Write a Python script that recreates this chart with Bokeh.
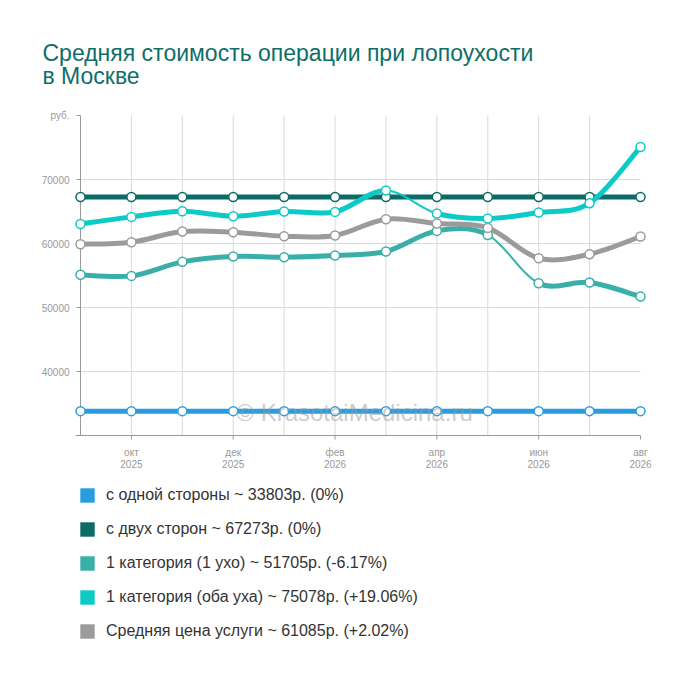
import numpy as np
from bokeh.plotting import figure
from bokeh.models import ColumnDataSource, Range1d, Legend, LegendItem, Label
from bokeh.core.properties import value
from bokeh.embed import file_html
from bokeh.resources import INLINE

# months: Sep 2025 .. Aug 2026, tick labels only on every second month
months = ["сен\n2025", "окт\n2025", "ноя\n2025", "дек\n2025", "янв\n2026", "фев\n2026",
          "мар\n2026", "апр\n2026", "май\n2026", "июн\n2026", "июл\n2026", "авг\n2026"]
labelled_months = [1, 3, 5, 7, 9, 11]

one_side = [33803, 33803, 33803, 33803, 33803, 33803, 33803, 33803, 33803, 33803, 33803, 33803]
both_sides = [67273, 67273, 67273, 67273, 67273, 67273, 67273, 67273, 67273, 67273, 67273, 67273]
cat1_one_ear = [55105, 54940, 57130, 57970, 57860, 58120, 58750, 61970, 61340, 53800, 53900, 51705]
cat1_both_ears = [63059, 64160, 65050, 64270, 65000, 64940, 68280, 64690, 63900, 64840, 66300, 75078]
avg_price = [59876, 60200, 61870, 61770, 61140, 61250, 63800, 63120, 62440, 57700, 58330, 61085]

series_names = [
    "с одной стороны ~ 33803р. (0%)",
    "с двух сторон ~ 67273р. (0%)",
    "1 категория (1 ухо) ~ 51705р. (-6.17%)",
    "1 категория (оба уха) ~ 75078р. (+19.06%)",
    "Средняя цена услуги ~ 61085р. (+2.02%)",
]
title_lines = ["Средняя стоимость операции при лопоухости", "в Москве"]
y_ticks = [40000, 50000, 60000, 70000, 80000]
y_tick_labels = ["40000", "50000", "60000", "70000", "руб."]

FONT = "Liberation Sans"
COLORS = ["#2a9de0", "#0b6b66", "#3aafa9", "#0ccac6", "#9b9b9b"]
AXIS = "#999999"
GRID = "#d9d9d9"
# a couple of segments are drawn thin in the original
THIN = {2: [8], 3: [6]}

# the frame covers the whole canvas, the plotting area sits inside it
W, H = 700, 680
AREA_L, AREA_R, AREA_T, AREA_B = 80, 640, 115, 435
XMIN, XMAX = 0, 11
YMIN, YMAX = 30000, 80000
kx = (XMAX - XMIN) / (AREA_R - AREA_L)
ky = (YMAX - YMIN) / (AREA_B - AREA_T)


def px(cx, cy):
    # canvas pixel (from top-left) -> data coords
    return XMIN + (cx - AREA_L) * kx, YMIN + (AREA_B - cy) * ky


def spline_segments(ys, k=1 / 6):
    xs = np.arange(len(ys), dtype=float)
    ys = np.asarray(ys, dtype=float)
    n = len(ys)
    seg = dict(x0=[], y0=[], x1=[], y1=[], cx0=[], cy0=[], cx1=[], cy1=[])
    for i in range(n - 1):
        a, b = max(i - 1, 0), min(i + 2, n - 1)
        seg["x0"].append(xs[i])
        seg["y0"].append(ys[i])
        seg["x1"].append(xs[i + 1])
        seg["y1"].append(ys[i + 1])
        seg["cx0"].append(xs[i] + (xs[i + 1] - xs[a]) * k)
        seg["cy0"].append(ys[i] + (ys[i + 1] - ys[a]) * k)
        seg["cx1"].append(xs[i + 1] - (xs[b] - xs[i]) * k)
        seg["cy1"].append(ys[i + 1] - (ys[b] - ys[i]) * k)
    return seg


x_lo, y_lo = px(0, H)
x_hi, y_hi = px(W, 0)
p = figure(width=W, height=H, toolbar_location=None, output_backend="svg",
           x_range=Range1d(x_lo, x_hi), y_range=Range1d(y_lo, y_hi),
           x_axis_location=None, y_axis_location=None, min_border=0)
p.grid.visible = False
p.outline_line_color = None

# grid
grid_x = list(range(XMIN + 1, XMAX))
p.segment(x0=grid_x, y0=YMIN, x1=grid_x, y1=YMAX, line_color=GRID, line_width=1)
p.segment(x0=XMIN, y0=y_ticks[:-1], x1=XMAX, y1=y_ticks[:-1], line_color=GRID, line_width=1)

# axes
p.segment(x0=[XMIN, px(75, 0)[0]], y0=[YMIN, YMIN], x1=[XMIN, XMAX], y1=[YMAX, YMIN],
          line_color=AXIS, line_width=1)
p.ray(x=XMIN, y=y_ticks, length=4, length_units="screen", angle=np.pi, line_color=AXIS)
p.ray(x=labelled_months, y=YMIN, length=4, length_units="screen", angle=-np.pi / 2,
      line_color=AXIS)
p.text(x=XMIN, y=y_ticks, text=y_tick_labels, x_offset=-11, text_align="right",
       text_baseline="middle", text_font=value(FONT), text_font_size="10px", text_color=AXIS)
month_part = [months[i].split("\n")[0] for i in labelled_months]
year_part = [months[i].split("\n")[1] for i in labelled_months]
for part, off in ((month_part, 17), (year_part, 28)):
    p.text(x=labelled_months, y=YMIN, text=part, y_offset=off, text_align="center",
           text_baseline="alphabetic", text_font=value(FONT), text_font_size="10px",
           text_color=AXIS)

# series
all_series = [one_side, both_sides, cat1_one_ear, cat1_both_ears, avg_price]
items = []
for idx, (ys, color, name) in enumerate(zip(all_series, COLORS, series_names)):
    xs = list(range(len(ys)))
    seg = spline_segments(ys)
    seg["w"] = [2 if j in THIN.get(idx, []) else 5 for j in range(len(ys) - 1)]
    p.bezier(x0="x0", y0="y0", x1="x1", y1="y1", cx0="cx0", cy0="cy0", cx1="cx1", cy1="cy1",
             source=ColumnDataSource(seg), line_color=color, line_width="w", line_cap="round")
    p.scatter(x=xs, y=ys, size=9, fill_color="white", line_color=color, line_width=1.5)
    # zero-area boxes at the points: only used to draw the square legend swatch
    swatch = p.quad(left=xs, right=xs, top=ys, bottom=ys, fill_color=color, line_color=None)
    items.append(LegendItem(label=name, renderers=[swatch]))

# title, two lines
for line, base in zip(title_lines, [52, 75]):
    tx, ty = px(42, base)
    p.add_layout(Label(x=tx, y=ty, text=line, text_font=FONT, text_font_size="23px",
                       text_color="#0e6e68", text_baseline="alphabetic"))

# watermark
wx, wy = px(354, 412)
p.add_layout(Label(x=wx, y=wy, text="© KrasotaiMedicina.ru", text_align="center",
                   text_baseline="alphabetic", text_font=FONT, text_font_size="24px",
                   text_color="#999999", text_alpha=0.5))

legend = Legend(items=items, location=(78, 39), orientation="vertical",
                margin=0, padding=0, spacing=14, glyph_width=18, glyph_height=18,
                label_height=20, label_standoff=10, border_line_color=None,
                background_fill_alpha=0, label_text_font=FONT,
                label_text_font_size="16px", label_text_color="#333333")
p.add_layout(legend, "center")

open("out.html", "w").write(file_html(p, INLINE))
